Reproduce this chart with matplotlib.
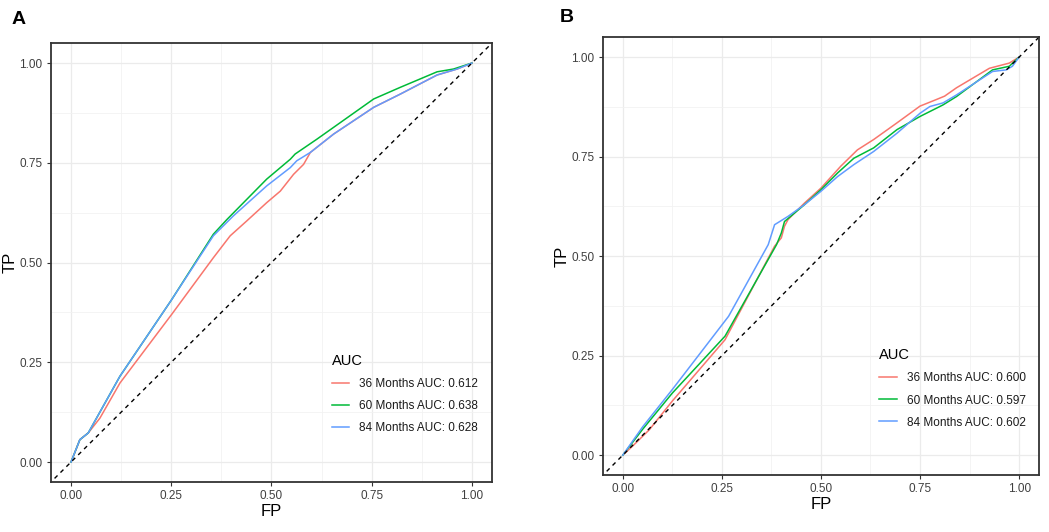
import matplotlib
matplotlib.use('Agg')
import matplotlib.pyplot as plt
import numpy as np

plt.rcParams['font.family'] = ['Liberation Sans', 'DejaVu Sans']

# Panel A
a36_fp = [0, 0.022, 0.043, 0.072, 0.122, 0.251, 0.355, 0.397, 0.438, 0.488, 0.522, 0.555, 0.580, 0.597, 0.655, 0.755, 0.821, 0.913, 0.963, 1.0]
a36_tp = [0, 0.056, 0.073, 0.110, 0.198, 0.370, 0.512, 0.567, 0.604, 0.650, 0.679, 0.721, 0.746, 0.776, 0.822, 0.889, 0.922, 0.970, 0.985, 1.0]
a60_fp = [0, 0.022, 0.043, 0.122, 0.251, 0.355, 0.389, 0.488, 0.547, 0.559, 0.613, 0.755, 0.821, 0.913, 0.954, 1.0]
a60_tp = [0, 0.056, 0.073, 0.215, 0.407, 0.571, 0.608, 0.709, 0.759, 0.772, 0.809, 0.910, 0.939, 0.978, 0.985, 1.0]
a84_fp = [0, 0.022, 0.043, 0.122, 0.251, 0.355, 0.405, 0.488, 0.547, 0.563, 0.597, 0.655, 0.755, 0.821, 0.913, 0.963, 1.0]
a84_tp = [0, 0.056, 0.073, 0.215, 0.407, 0.567, 0.617, 0.692, 0.738, 0.755, 0.776, 0.822, 0.889, 0.922, 0.970, 0.985, 1.0]
a_labels = ['36 Months AUC: 0.612', '60 Months AUC: 0.638', '84 Months AUC: 0.628']

# Panel B
b36_fp = [0, 0.025, 0.067, 0.125, 0.258, 0.383, 0.400, 0.408, 0.417, 0.458, 0.500, 0.550, 0.592, 0.633, 0.692, 0.750, 0.790, 0.812, 0.842, 0.925, 0.975, 1.0]
b36_tp = [0, 0.023, 0.064, 0.136, 0.290, 0.525, 0.546, 0.575, 0.592, 0.633, 0.671, 0.726, 0.767, 0.793, 0.835, 0.877, 0.893, 0.902, 0.923, 0.972, 0.985, 1.0]
b60_fp = [0, 0.050, 0.125, 0.258, 0.388, 0.400, 0.408, 0.458, 0.500, 0.542, 0.583, 0.633, 0.692, 0.750, 0.808, 0.842, 0.933, 0.975, 1.0]
b60_tp = [0, 0.065, 0.156, 0.299, 0.529, 0.558, 0.587, 0.629, 0.667, 0.709, 0.746, 0.772, 0.818, 0.851, 0.880, 0.901, 0.968, 0.977, 1.0]
b84_fp = [0, 0.050, 0.125, 0.267, 0.367, 0.383, 0.417, 0.458, 0.500, 0.542, 0.583, 0.633, 0.692, 0.750, 0.775, 0.808, 0.842, 0.933, 0.967, 0.983, 1.0]
b84_tp = [0, 0.071, 0.165, 0.349, 0.529, 0.579, 0.600, 0.629, 0.663, 0.700, 0.730, 0.763, 0.809, 0.859, 0.876, 0.885, 0.905, 0.964, 0.968, 0.977, 1.0]
b_labels = ['36 Months AUC: 0.600', '60 Months AUC: 0.597', '84 Months AUC: 0.602']

colors = ['#F8766D', '#00BA38', '#619CFF']
ticks = [0, 0.25, 0.5, 0.75, 1.0]
ticklabels = ['0.00', '0.25', '0.50', '0.75', '1.00']


def draw(ax, curves, labels, leg_anchor, ylab_x):
    for (fp, tp), c, lab in zip(curves, colors, labels):
        ax.plot(fp, tp, color=c, lw=1.1, label=lab)
    ax.plot([-0.1, 1.1], [-0.1, 1.1], color='black', ls=(0, (3, 3)), lw=1.0)
    ax.set_xlim(-0.05, 1.05)
    ax.set_ylim(-0.05, 1.05)
    ax.set_xticks(ticks)
    ax.set_xticklabels(ticklabels)
    ax.set_yticks(ticks)
    ax.set_yticklabels(ticklabels)
    ax.set_xticks([0.125, 0.375, 0.625, 0.875], minor=True)
    ax.set_yticks([0.125, 0.375, 0.625, 0.875], minor=True)
    ax.grid(which='major', color='#EBEBEB', lw=0.9)
    ax.grid(which='minor', color='#F2F2F2', lw=0.6)
    ax.set_axisbelow(True)
    ax.tick_params(which='major', length=3, width=0.8, color='#333333',
                   labelsize=8.5, labelcolor='#404040', pad=3)
    ax.tick_params(which='minor', length=0)
    for s in ax.spines.values():
        s.set_color('#333333')
        s.set_linewidth(1.3)
    ax.set_xlabel('FP', fontsize=12, labelpad=1)
    ax.set_ylabel('TP', fontsize=12)
    ax.yaxis.set_label_coords(ylab_x, 0.5)
    leg = ax.legend(title='AUC', loc='lower right', bbox_to_anchor=leg_anchor,
                    frameon=False, fontsize=8.5, title_fontsize=10.5,
                    handlelength=1.5, handletextpad=0.85, labelspacing=0.85,
                    alignment='left')
    for t in leg.get_texts():
        t.set_color('#1a1a1a')


fig = plt.figure(figsize=(10.49, 5.32), dpi=100)
axA = fig.add_axes([0.0486, 0.094, 0.4204, 0.825])
axB = fig.add_axes([0.5748, 0.107, 0.4156, 0.823])

draw(axA, [(a36_fp, a36_tp), (a60_fp, a60_tp), (a84_fp, a84_tp)], a_labels, (0.993, 0.084), -0.075)
draw(axB, [(b36_fp, b36_tp), (b60_fp, b60_tp), (b84_fp, b84_tp)], b_labels, (0.994, 0.082), -0.076)

fig.text(12 / 1049, 1 - 20 / 532, 'A', fontsize=14, fontweight='bold', va='center', ha='left')
fig.text(560 / 1049, 1 - 17 / 532, 'B', fontsize=14, fontweight='bold', va='center', ha='left')

fig.savefig('out.png', dpi=100)
